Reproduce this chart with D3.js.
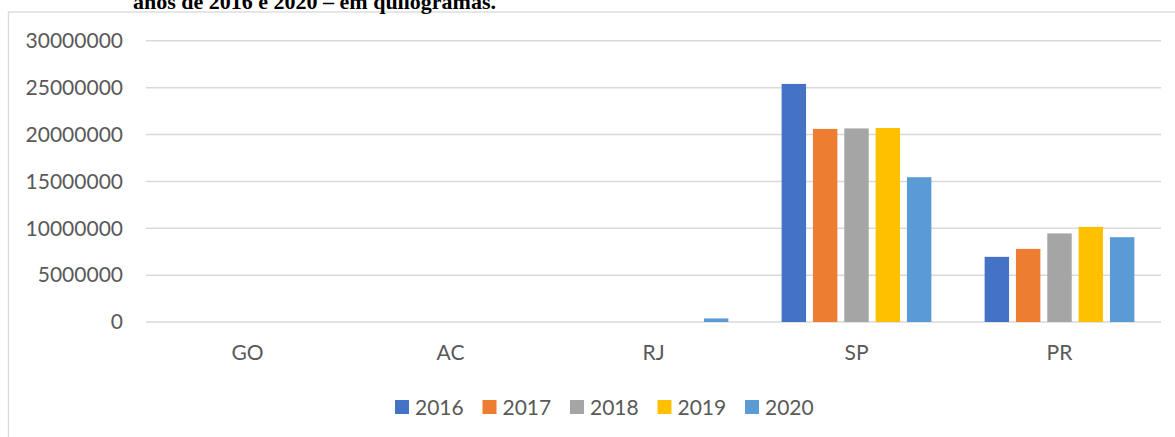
<!DOCTYPE html>
<html>
<head>
<meta charset="utf-8">
<script src="https://cdn.jsdelivr.net/npm/d3@7"></script>
<style>
  body { margin: 0; background: #fff; }
  svg { display: block; }
</style>
</head>
<body>
<svg width="1175" height="437"></svg>
<script>
// data (kg)
var states = ["GO", "AC", "RJ", "SP", "PR"];
var years = ["2016", "2017", "2018", "2019", "2020"];
var v2016 = [0, 0, 0, 25400000, 6950000];
var v2017 = [0, 0, 0, 20600000, 7800000];
var v2018 = [0, 0, 0, 20650000, 9450000];
var v2019 = [0, 0, 0, 20700000, 10150000];
var v2020 = [0, 0, 380000, 15450000, 9050000];
var yTicks = [0, 5000000, 10000000, 15000000, 20000000, 25000000, 30000000];
var colors = ["#4472C4", "#ED7D31", "#A5A5A5", "#FFC000", "#5B9BD5"];

var series = [v2016, v2017, v2018, v2019, v2020];

var svg = d3.select("svg");

// outer chart border (runs off the right and bottom of the picture)
svg.append("rect")
   .attr("x", 8.5).attr("y", 12)
   .attr("width", 1300).attr("height", 600)
   .attr("fill", "none")
   .attr("stroke", "#d9d9d9")
   .attr("stroke-width", 1.3);

// title, cut at the top like in the source page
svg.append("text")
   .attr("x", 133).attr("y", 9)
   .style("font-family", "'Liberation Serif', serif")
   .style("font-weight", "bold")
   .style("font-size", "22px")
   .text("anos de 2016 e 2020 – em quilogramas.");

var plotLeft = 146, plotRight = 1161;

var x0 = d3.scaleBand()
           .domain(states)
           .range([plotLeft, plotRight]);

var x1 = d3.scaleBand()
           .domain(years)
           .range([0, x0.bandwidth()])
           .paddingInner(0.22)
           .paddingOuter(0.85);

var y = d3.scaleLinear()
          .domain([0, 30000000])
          .range([322, 40.8]);

// gridlines
svg.append("g")
   .selectAll("line")
   .data(yTicks)
   .enter().append("line")
   .attr("x1", plotLeft).attr("x2", plotRight)
   .attr("y1", function(d) { return y(d); })
   .attr("y2", function(d) { return y(d); })
   .attr("stroke", "#d9d9d9")
   .attr("stroke-width", 1.5);

// y axis labels
var yAxis = d3.axisLeft(y)
              .tickValues(yTicks)
              .tickFormat(d3.format("d"))
              .tickSize(0)
              .tickPadding(0);

var ya = svg.append("g")
            .attr("transform", "translate(123,0)")
            .call(yAxis);
ya.select(".domain").remove();
ya.selectAll("text")
  .style("font-family", "Lato, sans-serif")
  .style("font-size", "21px")
  .attr("fill", "#595959");

// bars
var groups = svg.append("g")
                .selectAll("g")
                .data(series)
                .enter().append("g")
                .attr("fill", function(d, i) { return colors[i]; });

groups.selectAll("rect")
      .data(function(d, i) {
          return d.map(function(v, j) { return {year: years[i], state: states[j], value: v}; });
      })
      .enter().append("rect")
      .attr("x", function(d) { return x0(d.state) + x1(d.year); })
      .attr("width", x1.bandwidth())
      .attr("y", function(d) { return y(d.value); })
      .attr("height", function(d) { return y(0) - y(d.value); });

// category labels
var xAxis = d3.axisBottom(x0).tickSize(0).tickPadding(0);
var xa = svg.append("g")
            .attr("transform", "translate(0,345)")
            .call(xAxis);
xa.select(".domain").remove();
xa.selectAll("text")
  .attr("dy", "0.71em")
  .style("font-family", "Lato, sans-serif")
  .style("font-size", "21px")
  .attr("fill", "#595959");

// legend
var legend = svg.append("g")
                .selectAll("g")
                .data(years)
                .enter().append("g")
                .attr("transform", function(d, i) { return "translate(" + (395 + i * 87.5) + ",400)"; });

legend.append("rect")
      .attr("width", 14).attr("height", 14)
      .attr("fill", function(d, i) { return colors[i]; });

legend.append("text")
      .attr("x", 20).attr("y", 15)
      .style("font-family", "Lato, sans-serif")
      .style("font-size", "21px")
      .attr("fill", "#595959")
      .text(function(d) { return d; });
</script>
</body>
</html>
